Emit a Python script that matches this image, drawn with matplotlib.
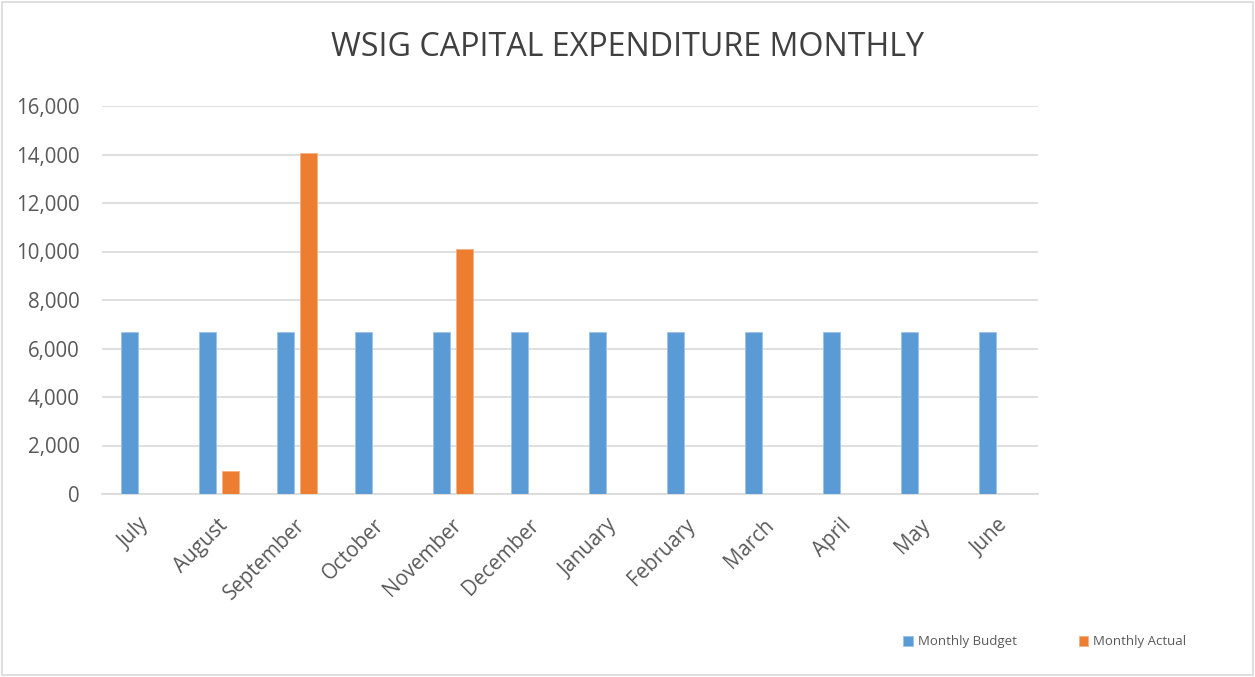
import numpy as np
import matplotlib.pyplot as plt
import matplotlib.transforms as mtransforms
from matplotlib.patches import Rectangle
from matplotlib.ticker import FuncFormatter

months = ["July", "August", "September", "October", "November", "December",
          "January", "February", "March", "April", "May", "June"]
budget = [6667, 6667, 6667, 6667, 6667, 6667, 6667, 6667, 6667, 6667, 6667, 6667]
actual = [0, 950, 14080, 0, 10120, 0, 0, 0, 0, 0, 0, 0]

blue = "#5B9BD5"
orange = "#ED7D31"
txt = "#595959"

plt.rcParams["font.family"] = ["Open Sans", "DejaVu Sans"]

fig = plt.figure(figsize=(12.55, 6.77), dpi=100)
ax = fig.add_axes([102 / 1255, 1 - 494 / 677, 936 / 1255, 388 / 677])

x = np.arange(len(months))
w = 0.215
off = 0.145
ax.bar(x - off, budget, w, color=blue, edgecolor="#9DC3E6", linewidth=0.6,
       label="Monthly Budget", zorder=3)
ax.bar(x + off, actual, w, color=orange, edgecolor="#F4B183", linewidth=0.6,
       label="Monthly Actual", zorder=3)

ax.set_xlim(-0.5, len(months) - 0.5)
ax.set_ylim(0, 16000)
ax.set_yticks(np.arange(0, 16001, 2000))
ax.yaxis.set_major_formatter(FuncFormatter(lambda v, p: f"{int(v):,}"))
ax.yaxis.grid(True, color="#D9D9D9", linewidth=1.2, zorder=0)
ax.set_axisbelow(True)
for s in ["top", "right", "left"]:
    ax.spines[s].set_visible(False)
ax.spines["bottom"].set_color("#D9D9D9")
ax.spines["bottom"].set_linewidth(1.2)
ax.tick_params(axis="both", length=0, colors=txt, labelsize=14.8)
ax.tick_params(axis="y", pad=16)
ax.set_xticks(x)
ax.set_xticklabels(months, rotation=45, ha="right", rotation_mode="anchor")
ax.tick_params(axis="x", pad=15)
shift = mtransforms.ScaledTranslation(-2 / 100, 0, fig.dpi_scale_trans)
for lab in ax.get_xticklabels():
    lab.set_transform(lab.get_transform() + shift)

fig.text(0.5, 1 - 47 / 677, "WSIG CAPITAL EXPENDITURE MONTHLY", ha="center",
         va="center", fontsize=23.2, color="#404040")

leg = fig.legend(loc="center", bbox_to_anchor=(1045 / 1255, 1 - 642 / 677),
                 ncol=2, frameon=False, fontsize=9.5, handlelength=0.7,
                 handleheight=0.7, handletextpad=0.4, columnspacing=4.7)
for t in leg.get_texts():
    t.set_color(txt)

fig.patches.append(Rectangle((2 / 1255, 2 / 677), 1251 / 1255, 673 / 677,
                             transform=fig.transFigure, fill=False,
                             edgecolor="#D9D9D9", linewidth=1.2))

fig.savefig("out.png", dpi=100)
